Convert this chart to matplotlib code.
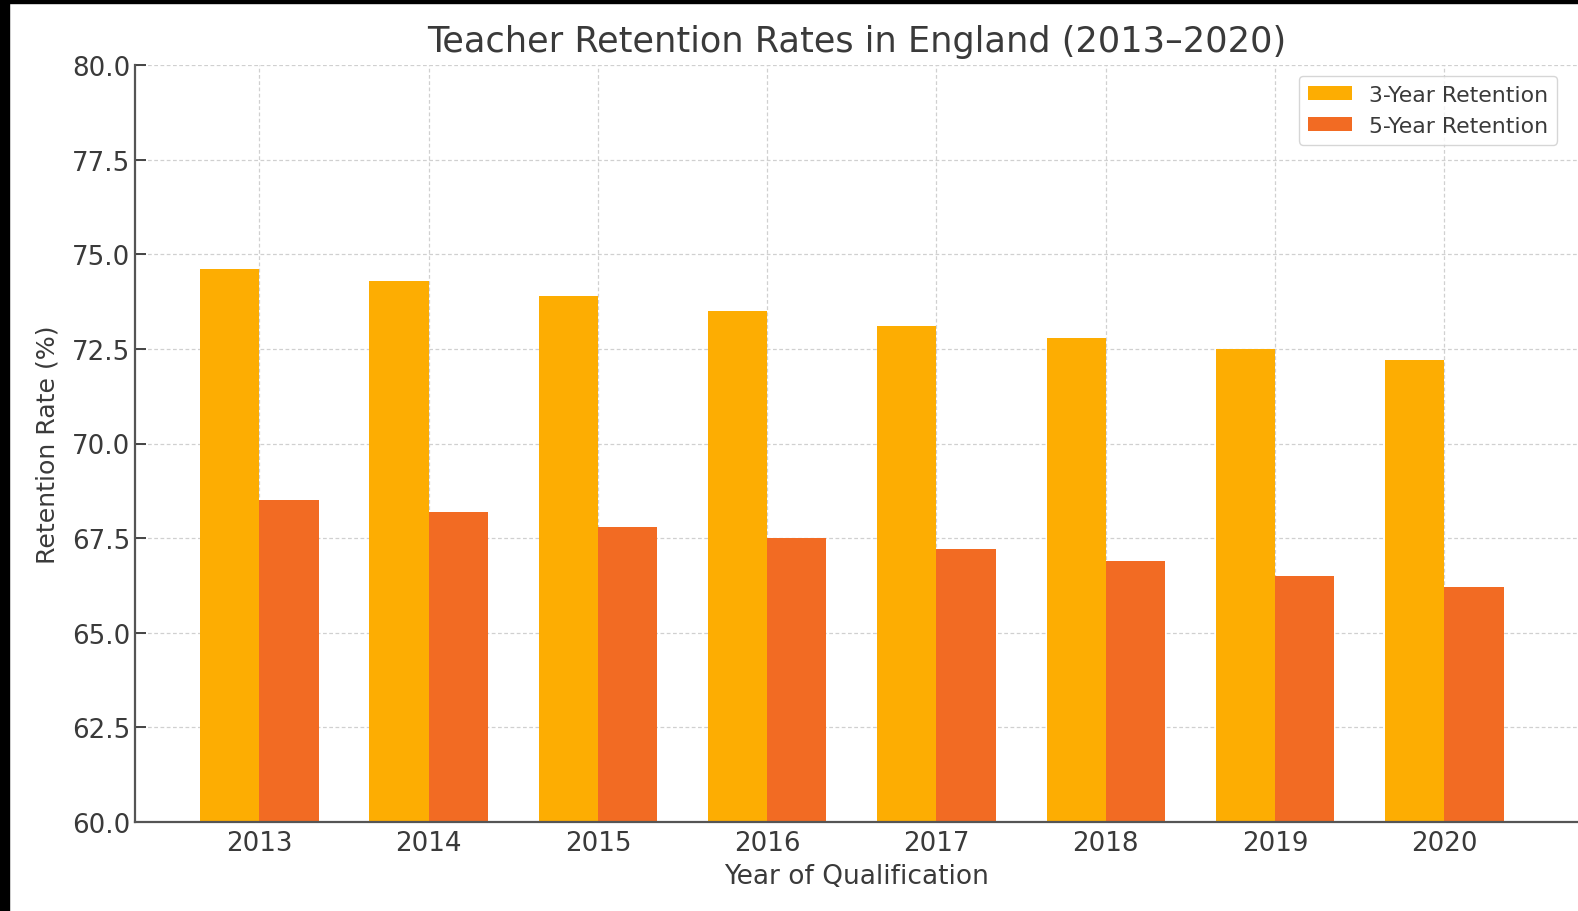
import matplotlib
matplotlib.use("Agg")
import matplotlib.pyplot as plt
import numpy as np
from matplotlib.patches import Rectangle

# ── Data ─────────────────────────────────────────────────────────────────────

years = ["2013", "2014", "2015", "2016", "2017", "2018", "2019", "2020"]
three_year = [74.6, 74.3, 73.9, 73.5, 73.1, 72.8, 72.5, 72.2]
five_year = [68.5, 68.2, 67.8, 67.5, 67.2, 66.9, 66.5, 66.2]

# ── Plot ─────────────────────────────────────────────────────────────────────

fig = plt.figure(figsize=(15.78, 9.12), dpi=100)
ax = fig.add_axes([135 / 1578, 89 / 912, 1 - 135 / 1578, (823 - 66) / 912])

x = np.arange(len(years))
w = 0.35
ax.bar(x - w / 2, three_year, w, color="#FDAD02", label="3-Year Retention")
ax.bar(x + w / 2, five_year, w, color="#F26B23", label="5-Year Retention")

ax.set_ylim(60, 80)
ax.set_xlim(-0.735, 7.79)
ax.set_xticks(x)
ax.set_xticklabels(years)
ax.set_yticks(np.arange(60, 80.1, 2.5))
ax.set_yticklabels([f"{v:.1f}" for v in np.arange(60, 80.1, 2.5)])

ax.set_axisbelow(True)
ax.grid(True, linestyle=(0, (3, 2)), color="#d0d0d0", linewidth=0.9)
for side in ("top", "right"):
    ax.spines[side].set_visible(False)
for side in ("left", "bottom"):
    ax.spines[side].set_color("#555555")
    ax.spines[side].set_linewidth(1.6)

ax.tick_params(axis="both", direction="in", length=8, width=1.4,
               colors="#444444", labelsize=18.8, labelcolor="#3a3a3a")
ax.tick_params(axis="x", pad=6)

ax.set_xlabel("Year of Qualification", fontsize=19, color="#3a3a3a", labelpad=5)
ax.set_ylabel("Retention Rate (%)", fontsize=18.2, color="#3a3a3a", labelpad=9)
ax.set_title("Teacher Retention Rates in England (2013\u20132020)",
             fontsize=25.3, color="#3a3a3a", pad=10)

# legend sits against the (cropped-off) right edge of the original axes
leg = ax.legend(loc="upper right", bbox_to_anchor=((1568 - 135) / (1578 - 135), 1.0),
                fontsize=15.8, frameon=True, fancybox=True, borderaxespad=0.5,
                handlelength=2.0, handleheight=0.6)
leg.get_frame().set_edgecolor("#cccccc")
for t in leg.get_texts():
    t.set_color("#3a3a3a")

# black crop borders from the screenshot
fig.patches.append(Rectangle((0, 0), 9 / 1578, 1, transform=fig.transFigure,
                             color="black", zorder=10))
fig.patches.append(Rectangle((0, 1 - 4 / 912), 1, 4 / 912, transform=fig.transFigure,
                             color="black", zorder=10))

fig.savefig("out.png", dpi=100, facecolor="white")
